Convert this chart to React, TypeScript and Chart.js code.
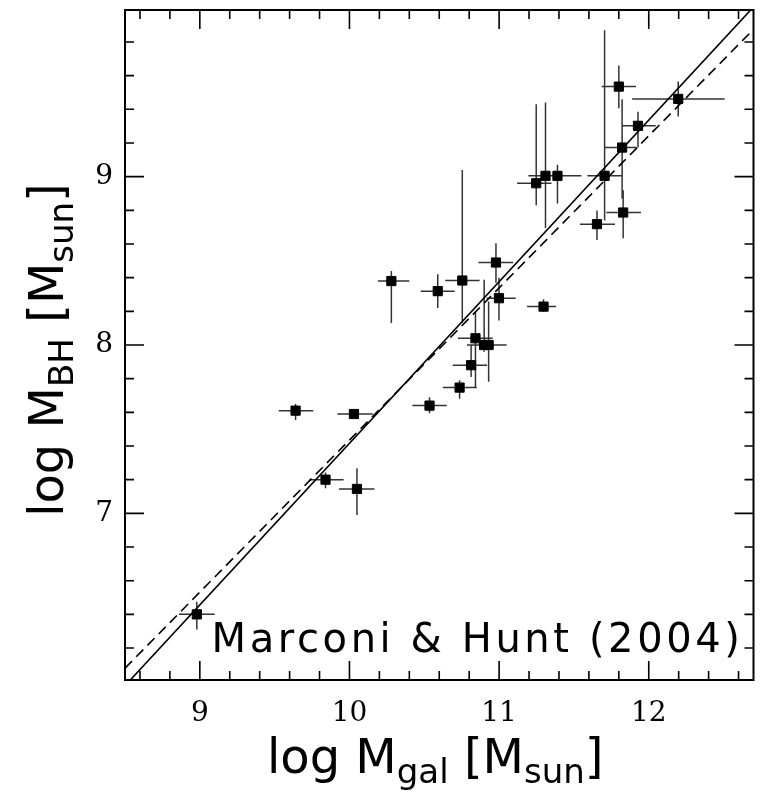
import React, { useEffect, useRef } from 'react';
import { Chart, registerables } from 'chart.js';

Chart.register(...registerables);

// log M_gal [M_sun]
const galMass = [8.98, 9.64, 9.84, 10.03, 10.05, 10.28, 10.535, 10.59, 10.736, 10.754, 10.813, 10.842, 10.9, 10.93, 10.979, 10.999, 11.297, 11.248, 11.31, 11.39, 11.654, 11.705, 11.8, 11.822, 11.829, 11.928, 12.197];
// log M_BH [M_sun]
const bhMass = [6.4, 7.61, 7.2, 7.59, 7.145, 8.38, 7.64, 8.32, 7.747, 8.383, 7.88, 8.04, 8.0, 8.0, 8.49, 8.278, 8.228, 8.961, 9.005, 9.005, 8.718, 9.005, 9.535, 9.173, 8.787, 9.302, 9.462];
// error bar ends
const galLo = [8.86, 9.527, 9.732, 9.919, 9.93, 10.19, 10.42, 10.476, 10.624, 10.64, 10.69, 10.725, 10.8, 10.785, 10.862, 10.917, 11.187, 11.12, 11.195, 11.34, 11.54, 11.59, 11.685, 11.705, 11.717, 11.818, 11.889];
const galHi = [9.1, 9.758, 9.961, 10.156, 10.167, 10.4, 10.65, 10.703, 10.851, 10.87, 10.92, 10.957, 11.0, 11.05, 11.094, 11.111, 11.381, 11.35, 11.42, 11.55, 11.774, 11.82, 11.915, 11.92, 11.948, 12.047, 12.507];
const bhLo = [6.31, 7.555, 7.149, 7.575, 6.99, 8.13, 7.595, 8.22, 7.68, 8.13, 7.81, 7.744, 7.96, 7.782, 8.37, 8.145, 8.199, 8.83, 8.695, 8.84, 8.624, 8.74, 9.406, 8.87, 8.634, 9.173, 9.357];
const bhHi = [6.475, 7.65, 7.242, 7.61, 7.268, 8.44, 7.69, 8.42, 7.79, 9.04, 8.0, 8.198, 8.387, 8.258, 8.605, 8.4, 8.272, 9.43, 9.44, 9.07, 8.799, 9.87, 9.66, 9.46, 8.92, 9.386, 9.565];

// fitted relations (end points)
const fitSolidX = [8.5, 12.7];
const fitSolidY = [5.976, 10.008];
const fitDashedX = [8.5, 12.7];
const fitDashedY = [6.08, 9.875];

const xTicks = [9, 10, 11, 12];
const yTicks = [7, 8, 9];
const xRange = [8.5, 12.7];
const yRange = [6.01, 9.99];

const xTitle = [
  { t: 'log M', sub: false },
  { t: 'gal', sub: true },
  { t: ' [M', sub: false },
  { t: 'sun', sub: true },
  { t: ']', sub: false },
];
const yTitle = [
  { t: 'log M', sub: false },
  { t: 'BH', sub: true },
  { t: ' [M', sub: false },
  { t: 'sun', sub: true },
  { t: ']', sub: false },
];
const annotation = 'Marconi & Hunt (2004)';

const TITLE_FONT = '"Comic Sans MS", "DejaVu Sans", sans-serif';

function drawRuns(ctx: CanvasRenderingContext2D, runs: { t: string; sub: boolean }[], size: number, subSize: number, subShift: number) {
  const font = (s: number) => `${s}px ${TITLE_FONT}`;
  let total = 0;
  const widths = runs.map((r) => {
    ctx.font = font(r.sub ? subSize : size);
    const w = ctx.measureText(r.t).width;
    total += w;
    return w;
  });
  let cx = -total / 2;
  ctx.textBaseline = 'alphabetic';
  ctx.textAlign = 'left';
  runs.forEach((r, i) => {
    ctx.font = font(r.sub ? subSize : size);
    ctx.fillText(r.t, cx, r.sub ? subShift : 0);
    cx += widths[i];
  });
}

const decor = {
  id: 'decor',
  beforeDatasetsDraw(chart: any) {
    const { ctx, chartArea, scales } = chart;
    const x = scales.x;
    const y = scales.y;
    ctx.save();
    ctx.beginPath();
    ctx.rect(chartArea.left, chartArea.top, chartArea.right - chartArea.left, chartArea.bottom - chartArea.top);
    ctx.clip();
    ctx.strokeStyle = '#333';
    ctx.lineWidth = 1.5;
    ctx.beginPath();
    for (let i = 0; i < galMass.length; i++) {
      const py = y.getPixelForValue(bhMass[i]);
      const px = x.getPixelForValue(galMass[i]);
      ctx.moveTo(x.getPixelForValue(galLo[i]), py);
      ctx.lineTo(x.getPixelForValue(galHi[i]), py);
      ctx.moveTo(px, y.getPixelForValue(bhLo[i]));
      ctx.lineTo(px, y.getPixelForValue(bhHi[i]));
    }
    ctx.stroke();
    ctx.restore();
  },
  afterDraw(chart: any) {
    const { ctx, chartArea, scales } = chart;
    const x = scales.x;
    const y = scales.y;
    const { left, right, top, bottom } = chartArea;
    ctx.save();
    // frame
    ctx.strokeStyle = '#000';
    ctx.lineWidth = 2;
    ctx.strokeRect(left, top, right - left, bottom - top);
    // ticks
    ctx.lineWidth = 1.6;
    ctx.beginPath();
    const major = 19;
    const minor = 9;
    for (let k = Math.ceil(xRange[0] * 5); k <= Math.floor(xRange[1] * 5); k++) {
      const v = k / 5;
      const px = x.getPixelForValue(v);
      const len = k % 5 === 0 ? major : minor;
      ctx.moveTo(px, bottom);
      ctx.lineTo(px, bottom - len);
      ctx.moveTo(px, top);
      ctx.lineTo(px, top + len);
    }
    for (let k = Math.ceil(yRange[0] * 5); k <= Math.floor(yRange[1] * 5); k++) {
      const v = k / 5;
      const py = y.getPixelForValue(v);
      const len = k % 5 === 0 ? major : minor;
      ctx.moveTo(left, py);
      ctx.lineTo(left + len, py);
      ctx.moveTo(right, py);
      ctx.lineTo(right - len, py);
    }
    ctx.stroke();

    ctx.fillStyle = '#000';
    // x title
    ctx.save();
    ctx.translate((left + right) / 2 - 4, 773);
    drawRuns(ctx, xTitle, 48, 34, 10);
    ctx.restore();
    // y title
    ctx.save();
    ctx.translate(63, (top + bottom) / 2 + 5);
    ctx.rotate(-Math.PI / 2);
    drawRuns(ctx, yTitle, 48, 34, 10);
    ctx.restore();
    // annotation
    ctx.font = `40px ${TITLE_FONT}`;
    (ctx as any).letterSpacing = '3.6px';
    ctx.textAlign = 'right';
    ctx.textBaseline = 'alphabetic';
    ctx.fillText(annotation, right - 10, bottom - 28);
    ctx.restore();
  },
};

export default function App() {
  const ref = useRef<HTMLCanvasElement | null>(null);
  useEffect(() => {
    if (!ref.current) return;
    const points = galMass.map((v, i) => ({ x: v, y: bhMass[i] }));
    const solid = fitSolidX.map((v, i) => ({ x: v, y: fitSolidY[i] }));
    const dashed = fitDashedX.map((v, i) => ({ x: v, y: fitDashedY[i] }));
    const chart = new Chart(ref.current, {
      type: 'scatter',
      data: {
        datasets: [
          {
            type: 'line',
            data: solid,
            borderColor: '#000',
            borderWidth: 1.6,
            pointRadius: 0,
            fill: false,
          } as any,
          {
            type: 'line',
            data: dashed,
            borderColor: '#000',
            borderWidth: 1.6,
            borderDash: [10, 6],
            pointRadius: 0,
            fill: false,
          } as any,
          {
            type: 'scatter',
            data: points,
            pointStyle: 'rect',
            pointRadius: 6.5,
            backgroundColor: '#000',
            borderColor: '#000',
            borderWidth: 1,
          } as any,
        ],
      },
      options: {
        animation: false,
        responsive: false,
        devicePixelRatio: 1,
        layout: { padding: { top: 10, right: 2, left: 0, bottom: 0 } },
        plugins: { legend: { display: false }, tooltip: { enabled: false } },
        scales: {
          x: {
            type: 'linear',
            min: xRange[0],
            max: xRange[1],
            grid: { display: false, drawTicks: false },
            border: { display: false },
            ticks: {
              color: '#000',
              font: { family: '"DejaVu Serif", serif', size: 28 },
              padding: 17,
              maxRotation: 0,
            },
            afterBuildTicks: (s: any) => {
              s.ticks = xTicks.map((v) => ({ value: v }));
            },
            afterFit: (s: any) => {
              s.height = 123;
              s.paddingLeft = 0;
              s.paddingRight = 0;
            },
          },
          y: {
            type: 'linear',
            min: yRange[0],
            max: yRange[1],
            grid: { display: false, drawTicks: false },
            border: { display: false },
            ticks: {
              color: '#000',
              font: { family: '"DejaVu Serif", serif', size: 28 },
              padding: 12,
            },
            afterBuildTicks: (s: any) => {
              s.ticks = yTicks.map((v) => ({ value: v }));
            },
            afterFit: (s: any) => {
              s.width = 125;
              s.paddingTop = 0;
              s.paddingBottom = 0;
            },
          },
        },
      },
      plugins: [decor],
    });
    return () => chart.destroy();
  }, []);
  return (
    <canvas
      ref={ref}
      width={761}
      height={803}
      style={{ position: 'absolute', left: 0, top: 0, width: 761, height: 803 }}
    />
  );
}
